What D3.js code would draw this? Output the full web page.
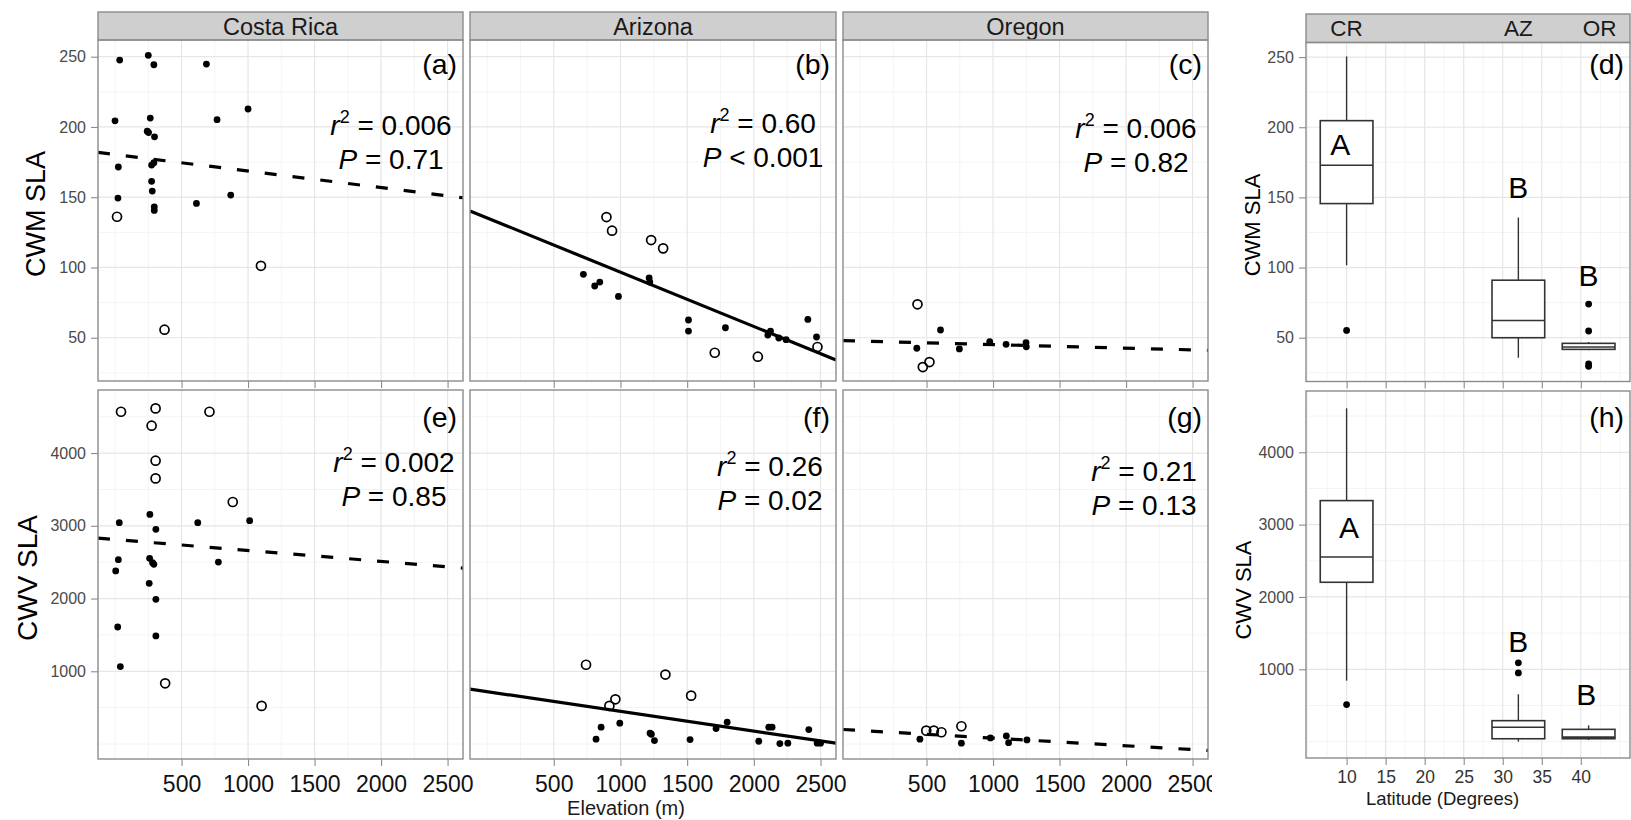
<!DOCTYPE html>
<html>
<head>
<meta charset="utf-8">
<script src="https://cdn.jsdelivr.net/npm/d3@7"></script>
<style>
  body { margin: 0; background: #fff; }
  svg { display: block; }
  text { font-family: "Liberation Sans", Arial, Helvetica, sans-serif; }
</style>
</head>
<body>
<svg id="chart" width="1631" height="820"></svg>
<script>
// ---------------------------------------------------------------------------
// Data
// ---------------------------------------------------------------------------
const regions = ["Costa Rica", "Arizona", "Oregon"];
const regionCodes = ["CR", "AZ", "OR"];
const regionLatitude = [10, 32, 41];

const elevationTicks = [500, 1000, 1500, 2000, 2500];
const cwmTicks = [50, 100, 150, 200, 250];
const cwvTicks = [1000, 2000, 3000, 4000];
const latitudeTicks = [10, 15, 20, 25, 30, 35, 40];

// Plots: [elevation (m), value, open symbol (1) or filled (0)]
const cwmCostaRica = [
  [35, 247.6, 0], [250, 251, 0], [292, 244.3, 0], [687, 244.8, 0], [0, 204.4, 0],
  [265, 206.3, 0], [242, 197, 0], [252, 196, 0], [297, 193, 0], [767, 205.2, 0],
  [1000, 212.8, 0], [25, 171.5, 0], [275, 172.9, 0], [292, 174.6, 0], [275, 161.3, 0],
  [280, 154.4, 0], [22, 149.4, 0], [295, 143.2, 0], [295, 140.6, 0], [612, 145.6, 0],
  [870, 151.5, 0], [15, 136.1, 1], [1097, 101.2, 1], [372, 55.7, 1]
];
const cwmArizona = [
  [895, 135.9, 1], [937, 126.2, 1], [1230, 119.5, 1], [1320, 113.6, 1], [1707, 39.3, 1],
  [2030, 36.5, 1], [2477, 43.4, 1],
  [722, 95.1, 0], [807, 86.8, 0], [845, 89.6, 0], [985, 79.4, 0], [1215, 92.5, 0],
  [1220, 89.6, 0], [1510, 62.6, 0], [1510, 54.7, 0], [1787, 57.1, 0], [2125, 54.7, 0],
  [2105, 51.9, 0], [2187, 49.8, 0], [2242, 48.6, 0], [2405, 63.0, 0], [2470, 50.5, 0]
];
const cwmOregon = [
  [432, 73.8, 1], [472, 29.1, 1], [522, 32.7, 1],
  [605, 55.5, 0], [427, 42.5, 0], [747, 42.0, 0], [975, 47.2, 0], [1098, 45.3, 0],
  [1248, 46.5, 0], [1250, 43.5, 0]
];
const cwvCostaRica = [
  [45, 4568, 1], [305, 4614, 1], [275, 4376, 1], [710, 4568, 1], [305, 3895, 1],
  [305, 3652, 1], [885, 3327, 1], [377, 835, 1], [1102, 524, 1],
  [32, 3043, 0], [262, 3157, 0], [307, 2951, 0], [622, 3043, 0], [1012, 3070, 0],
  [25, 2534, 0], [5, 2379, 0], [260, 2553, 0], [282, 2493, 0], [292, 2470, 0],
  [777, 2502, 0], [257, 2209, 0], [307, 1989, 0], [20, 1609, 0], [307, 1486, 0],
  [40, 1064, 0]
];
const cwvArizona = [
  [742, 1090, 1], [1337, 955, 1], [1530, 665, 1], [962, 615, 1], [917, 524, 1],
  [855, 231, 0], [817, 66, 0], [995, 286, 0], [1222, 148, 0], [1232, 134, 0],
  [1255, 47, 0], [1522, 61, 0], [1717, 212, 0], [1800, 299, 0], [2037, 38, 0],
  [2112, 231, 0], [2137, 231, 0], [2195, 6, 0], [2255, 11, 0], [2412, 199, 0],
  [2475, 11, 0], [2500, 11, 0]
];
const cwvOregon = [
  [498, 184, 1], [555, 184, 1], [612, 162, 1], [762, 244, 1],
  [450, 66, 0], [762, 11, 0], [980, 84, 0], [1100, 111, 0], [1117, 19, 0], [1255, 56, 0]
];

// Fitted regression lines: value = intercept + slope * elevation
const cwmFits = [
  { intercept: 180.4, slope: -0.01177, significant: false },
  { intercept: 135.3, slope: -0.03865, significant: true },
  { intercept: 47.6, slope: -0.0025, significant: false }
];
const cwvFits = [
  { intercept: 2811, slope: -0.150, significant: false },
  { intercept: 720, slope: -0.271, significant: true },
  { intercept: 186, slope: -0.105, significant: false }
];

// Regression statistics: [r², relation, P]
const cwmStats = [["0.006", "=", "0.71"], ["0.60", "<", "0.001"], ["0.006", "=", "0.82"]];
const cwvStats = [["0.002", "=", "0.85"], ["0.26", "=", "0.02"], ["0.21", "=", "0.13"]];

// Box plots by latitude: [lower whisker, Q1, median, Q3, upper whisker]
const cwmBoxes = [[101.7, 145.6, 172.9, 204.7, 250.5], [35.8, 50, 62.3, 91, 135.6], [41, 41.7, 43.4, 46, 47]];
const cwmOutliers = [[55.2], [], [74, 54.8, 31.3, 29.6]];
const cwvBoxes = [[843, 2203, 2553, 3332, 4608], [0, 40, 200, 290, 655], [23, 40, 62, 170, 225]];
const cwvOutliers = [[512], [1090, 950], []];
const groupLetters = ["A", "B", "B"];

const panelTags = [["(a)", "(b)", "(c)", "(d)"], ["(e)", "(f)", "(g)", "(h)"]];

// ---------------------------------------------------------------------------
// Layout
// ---------------------------------------------------------------------------
const svg = d3.select("#chart");
const GRID_MAJOR = "#e6e6e6";
const GRID_MINOR = "#f4f4f4";
const BORDER = "#8c8c8c";
const STRIP_FILL = "#cfcfcf";

const cols = [[98, 463], [470, 836], [843, 1208]];
const cellRight = [466, 839, 1212];
const row1 = { stripTop: 12, top: 40, bottom: 381 };
const row2 = { top: 390, bottom: 759 };
const side = { left: 1306, right: 1630 };
const side1 = { stripTop: 14, top: 42.5, bottom: 381.5 };
const side2 = { top: 391, bottom: 758 };

const elevDomain = [-128, 2616];
const cwmDomain = [19.2, 261.9];
const cwvDomain = [-206, 4867];
const cwmDomainSide = [18.8, 260.4];
const cwvDomainSide = [-226, 4847];
const latDomain = [4.8, 46.3];
const boxWidth = 6.75;

// annotation anchors in data units (first line baseline)
const cwmStatAt = [[2075, 194.3], [2069, 195.7], [2075, 192.1]];
const cwvStatAt = [[2097, 3744], [2121, 3685], [2135, 3620]];
const cwmLetterAt = [[9.2, 180.2], [32, 149.6], [41, 86.9]];
const cwvLetterAt = [[10.3, 2811], [32, 1243], [40.7, 507]];
const stripLatitude = [10, 32, 42.4];

function minorBreaks(ticks, domain) {
  const step = ticks[1] - ticks[0];
  const ext = [ticks[0] - step, ...ticks, ticks[ticks.length - 1] + step];
  const out = [];
  for (let i = 0; i < ext.length - 1; i++) out.push(ext[i] + step / 2);
  ext.forEach(v => { if (!ticks.includes(v)) out.push(v); });
  return out.filter(v => v >= domain[0] && v <= domain[1]);
}

let clipId = 0;
function panel(opts) {
  const { x, y, xTicks, yTicks, xLabels, yLabels, xLabelOpts, yLabelOpts } = opts;
  const [x0, x1] = x.range();
  const [y1, y0] = y.range();
  const g = svg.append("g");
  g.append("rect").attr("x", x0).attr("y", y0).attr("width", x1 - x0).attr("height", y1 - y0)
    .attr("fill", "#fff");
  // grid
  const grid = g.append("g");
  minorBreaks(xTicks, x.domain()).forEach(v => grid.append("line")
    .attr("x1", x(v)).attr("x2", x(v)).attr("y1", y0).attr("y2", y1)
    .attr("stroke", GRID_MINOR).attr("stroke-width", 1));
  minorBreaks(yTicks, y.domain()).forEach(v => grid.append("line")
    .attr("y1", y(v)).attr("y2", y(v)).attr("x1", x0).attr("x2", x1)
    .attr("stroke", GRID_MINOR).attr("stroke-width", 1));
  xTicks.forEach(v => grid.append("line")
    .attr("x1", x(v)).attr("x2", x(v)).attr("y1", y0).attr("y2", y1)
    .attr("stroke", GRID_MAJOR).attr("stroke-width", 1.2));
  yTicks.forEach(v => grid.append("line")
    .attr("y1", y(v)).attr("y2", y(v)).attr("x1", x0).attr("x2", x1)
    .attr("stroke", GRID_MAJOR).attr("stroke-width", 1.2));

  // x axis ticks (always) with optional labels
  const xAxis = d3.axisBottom(x).tickValues(xTicks).tickSize(7).tickPadding(9)
    .tickFormat(xLabels ? d3.format("d") : "");
  const xa = g.append("g").attr("transform", `translate(0,${y1})`).call(xAxis);
  xa.select(".domain").remove();
  xa.selectAll(".tick line").attr("stroke", "#8c8c8c").attr("stroke-width", 1.1);
  if (xLabels) {
    xa.selectAll(".tick text").attr("font-size", xLabelOpts.size).attr("fill", xLabelOpts.color)
      .attr("font-family", "Liberation Sans, Arial, sans-serif")
      .attr("dy", null).attr("y", xLabelOpts.baseline - y1).attr("dominant-baseline", "auto");
    if (opts.labelClipRight) {
      const cid = "lclip" + (clipId++);
      svg.append("clipPath").attr("id", cid).append("rect")
        .attr("x", x0 - 60).attr("y", -10).attr("width", opts.labelClipRight - x0 + 60).attr("height", 80);
      xa.attr("clip-path", `url(#${cid})`);
    }
  }
  if (yLabels) {
    const yAxis = d3.axisLeft(y).tickValues(yTicks).tickSize(7).tickPadding(5)
      .tickFormat(d3.format("d"));
    const ya = g.append("g").attr("transform", `translate(${x0},0)`).call(yAxis);
    ya.select(".domain").remove();
    ya.selectAll(".tick line").attr("stroke", "#8c8c8c").attr("stroke-width", 1.1);
    ya.selectAll(".tick text").attr("font-size", yLabelOpts.size).attr("fill", yLabelOpts.color)
      .attr("font-family", "Liberation Sans, Arial, sans-serif");
  }

  const id = "clip" + (clipId++);
  svg.append("clipPath").attr("id", id).append("rect")
    .attr("x", x0).attr("y", y0).attr("width", x1 - x0).attr("height", y1 - y0);
  const body = g.append("g").attr("clip-path", `url(#${id})`);
  const fin = () => {
    g.append("rect").attr("x", x0).attr("y", y0).attr("width", x1 - x0).attr("height", y1 - y0)
      .attr("fill", "none").attr("stroke", BORDER).attr("stroke-width", 1.4);
  };
  return { g, body, fin, x0, x1, y0, y1 };
}

function strip(x0, x1, top, bottom, g) {
  g.append("rect").attr("x", x0).attr("y", top).attr("width", x1 - x0).attr("height", bottom - top)
    .attr("fill", STRIP_FILL).attr("stroke", BORDER).attr("stroke-width", 1.4);
}

function drawPoints(body, x, y, pts) {
  pts.filter(p => p[2] === 1).forEach(p => body.append("circle")
    .attr("cx", x(p[0])).attr("cy", y(p[1])).attr("r", 4.5)
    .attr("fill", "none").attr("stroke", "#000").attr("stroke-width", 1.7));
  pts.filter(p => p[2] === 0).forEach(p => body.append("circle")
    .attr("cx", x(p[0])).attr("cy", y(p[1])).attr("r", 3.4).attr("fill", "#000"));
}

function drawFit(body, x, y, fit) {
  const [d0, d1] = x.domain();
  body.append("line")
    .attr("x1", x(d0)).attr("y1", y(fit.intercept + fit.slope * d0))
    .attr("x2", x(d1)).attr("y2", y(fit.intercept + fit.slope * d1))
    .attr("stroke", "#000").attr("stroke-width", 3.2)
    .attr("stroke-dasharray", fit.significant ? null : "12 16");
}

function drawStats(g, x, y, at, stat) {
  const cx = x(at[0]), cy = y(at[1]);
  const t1 = g.append("text").attr("x", cx).attr("y", cy).attr("text-anchor", "middle")
    .attr("font-size", 28).attr("fill", "#000");
  t1.append("tspan").attr("font-style", "italic").text("r");
  t1.append("tspan").attr("font-size", 18).attr("dy", -12).text("2");
  t1.append("tspan").attr("dy", 12).text(" = " + stat[0]);
  const t2 = g.append("text").attr("x", cx).attr("y", cy + 34).attr("text-anchor", "middle")
    .attr("font-size", 28).attr("fill", "#000");
  t2.append("tspan").attr("font-style", "italic").text("P");
  t2.append("tspan").text(" " + stat[1] + " " + stat[2]);
}

function drawTag(g, xRight, baseline, label) {
  g.append("text").attr("x", xRight).attr("y", baseline).attr("text-anchor", "end")
    .attr("font-size", 28.5).attr("fill", "#000").text(label);
}

// ---------------------------------------------------------------------------
// Elevation panels
// ---------------------------------------------------------------------------
const cwmSets = [cwmCostaRica, cwmArizona, cwmOregon];
const cwvSets = [cwvCostaRica, cwvArizona, cwvOregon];

regions.forEach((name, i) => {
  const [cx0, cx1] = cols[i];
  const x = d3.scaleLinear().domain(elevDomain).range([cx0, cx1]);

  // top row: CWM
  const y1 = d3.scaleLinear().domain(cwmDomain).range([row1.bottom, row1.top]);
  const p1 = panel({
    x, y: y1, xTicks: elevationTicks, yTicks: cwmTicks,
    xLabels: false, yLabels: i === 0, yLabelOpts: { size: 16, color: "#4a4a4a" }
  });
  strip(cx0, cx1, row1.stripTop, row1.top, p1.g);
  p1.g.append("text").attr("x", (cx0 + cx1) / 2).attr("y", 35).attr("text-anchor", "middle")
    .attr("font-size", 23.5).attr("fill", "#1a1a1a").text(name);
  drawFit(p1.body, x, y1, cwmFits[i]);
  drawPoints(p1.body, x, y1, cwmSets[i]);
  drawStats(p1.g, x, y1, cwmStatAt[i], cwmStats[i]);
  drawTag(p1.g, cx1 - 6, 74, panelTags[0][i]);
  p1.fin();

  // bottom row: CWV
  const y2 = d3.scaleLinear().domain(cwvDomain).range([row2.bottom, row2.top]);
  const p2 = panel({
    x, y: y2, xTicks: elevationTicks, yTicks: cwvTicks,
    xLabels: true, xLabelOpts: { size: 23, color: "#111", baseline: 792 },
    labelClipRight: i === 2 ? cellRight[i] : null,
    yLabels: i === 0, yLabelOpts: { size: 16, color: "#4a4a4a" }
  });
  drawFit(p2.body, x, y2, cwvFits[i]);
  drawPoints(p2.body, x, y2, cwvSets[i]);
  drawStats(p2.g, x, y2, cwvStatAt[i], cwvStats[i]);
  drawTag(p2.g, cx1 - 6, 427, panelTags[1][i]);
  p2.fin();
});

// axis titles for elevation panels
svg.append("text").attr("transform", "translate(45,214) rotate(-90)").attr("text-anchor", "middle")
  .attr("font-size", 27).attr("fill", "#000").text("CWM SLA");
svg.append("text").attr("transform", "translate(37,578) rotate(-90)").attr("text-anchor", "middle")
  .attr("font-size", 28).attr("fill", "#000").text("CWV SLA");
svg.append("text").attr("x", 626).attr("y", 815).attr("text-anchor", "middle")
  .attr("font-size", 20).attr("fill", "#1a1a1a").text("Elevation (m)");

// ---------------------------------------------------------------------------
// Latitude box plots
// ---------------------------------------------------------------------------
const xLat = d3.scaleLinear().domain(latDomain).range([side.left, side.right]);

function boxPanel(y, ticks, boxes, outliers, letterAt, tag, tagBaseline, showLabels) {
  const p = panel({
    x: xLat, y, xTicks: latitudeTicks, yTicks: ticks,
    xLabels: showLabels, xLabelOpts: { size: 17.5, color: "#333", baseline: 783 },
    yLabels: true, yLabelOpts: { size: 16, color: "#4a4a4a" }
  });
  boxes.forEach((b, i) => {
    const cx = xLat(regionLatitude[i]);
    const xl = xLat(regionLatitude[i] - boxWidth / 2), xr = xLat(regionLatitude[i] + boxWidth / 2);
    p.body.append("line").attr("x1", cx).attr("x2", cx).attr("y1", y(b[3])).attr("y2", y(b[4]))
      .attr("stroke", "#333").attr("stroke-width", 1.4);
    p.body.append("line").attr("x1", cx).attr("x2", cx).attr("y1", y(b[1])).attr("y2", y(b[0]))
      .attr("stroke", "#333").attr("stroke-width", 1.4);
    p.body.append("rect").attr("x", xl).attr("y", y(b[3])).attr("width", xr - xl)
      .attr("height", y(b[1]) - y(b[3])).attr("fill", "#fff").attr("stroke", "#333")
      .attr("stroke-width", 1.6);
    p.body.append("line").attr("x1", xl).attr("x2", xr).attr("y1", y(b[2])).attr("y2", y(b[2]))
      .attr("stroke", "#333").attr("stroke-width", 1.6);
    outliers[i].forEach(v => p.body.append("circle").attr("cx", cx).attr("cy", y(v))
      .attr("r", 3.4).attr("fill", "#000"));
    p.g.append("text").attr("x", xLat(letterAt[i][0])).attr("y", y(letterAt[i][1]))
      .attr("text-anchor", "middle").attr("font-size", 30).attr("fill", "#000").text(groupLetters[i]);
  });
  drawTag(p.g, side.right - 6, tagBaseline, tag);
  return p;
}

const yCwmSide = d3.scaleLinear().domain(cwmDomainSide).range([side1.bottom, side1.top]);
const pd = boxPanel(yCwmSide, cwmTicks, cwmBoxes, cwmOutliers, cwmLetterAt, panelTags[0][3], 74, false);
strip(side.left, side.right, side1.stripTop, side1.top, pd.g);
regionCodes.forEach((c, i) => pd.g.append("text").attr("x", xLat(stripLatitude[i])).attr("y", 36)
  .attr("text-anchor", "middle").attr("font-size", 22.5).attr("fill", "#1a1a1a").text(c));
pd.fin();

const yCwvSide = d3.scaleLinear().domain(cwvDomainSide).range([side2.bottom, side2.top]);
const ph = boxPanel(yCwvSide, cwvTicks, cwvBoxes, cwvOutliers, cwvLetterAt, panelTags[1][3], 427, true);
ph.fin();

svg.append("text").attr("transform", "translate(1260,225) rotate(-90)").attr("text-anchor", "middle")
  .attr("font-size", 22).attr("fill", "#000").text("CWM SLA");
svg.append("text").attr("transform", "translate(1250.5,590) rotate(-90)").attr("text-anchor", "middle")
  .attr("font-size", 22).attr("fill", "#000").text("CWV SLA");
svg.append("text").attr("x", 1442.5).attr("y", 805).attr("text-anchor", "middle")
  .attr("font-size", 18.5).attr("fill", "#1a1a1a").text("Latitude (Degrees)");
</script>
</body>
</html>
